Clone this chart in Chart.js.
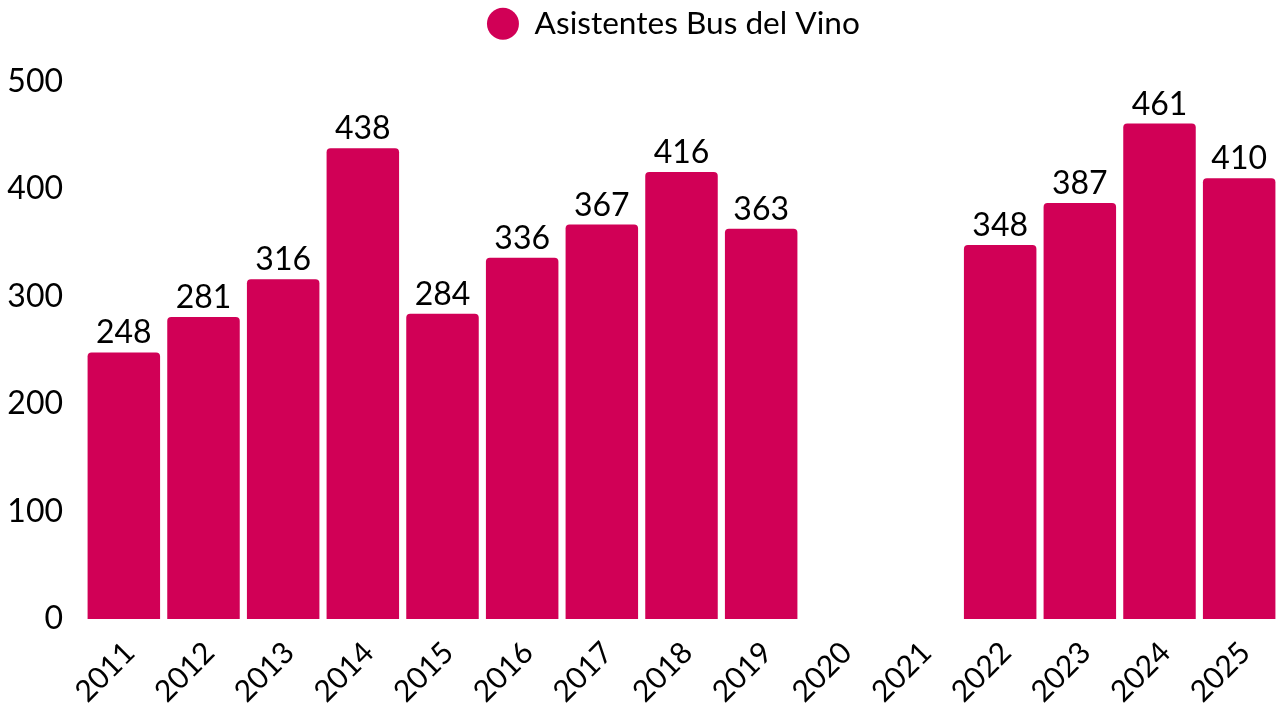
<!DOCTYPE html>
<html>
<head>
<meta charset="utf-8">
<script src="https://cdn.jsdelivr.net/npm/chart.js@4"></script>
<style>
  html, body { margin: 0; padding: 0; background: #fff; }
  #wrap { width: 1279px; height: 711px; }
</style>
</head>
<body>
<div id="wrap"><canvas id="chart"></canvas></div>
<script>
// Years and attendance per year (no bus in 2020 and 2021)
const years = ['2011', '2012', '2013', '2014', '2015', '2016', '2017', '2018', '2019', '2020', '2021', '2022', '2023', '2024', '2025'];
const asistentes = [248, 281, 316, 438, 284, 336, 367, 416, 363, null, null, 348, 387, 461, 410];
const barColor = '#d10056';

// Draw the value above each bar
const valueLabels = {
  id: 'valueLabels',
  afterDatasetsDraw(chart) {
    const ctx = chart.ctx;
    const meta = chart.getDatasetMeta(0);
    ctx.save();
    ctx.font = '32px Lato';
    ctx.fillStyle = '#000';
    ctx.textAlign = 'center';
    ctx.textBaseline = 'alphabetic';
    meta.data.forEach((bar, i) => {
      const v = asistentes[i];
      if (v == null) return;
      ctx.fillText(String(v), bar.x, bar.y - 9);
    });
    ctx.restore();
  }
};

// Extra room under the legend, and nudge it a bit to the left
const legendTweak = {
  id: 'legendTweak',
  beforeInit(chart) {
    const legend = chart.legend;
    const fit = legend.fit;
    legend.fit = function () {
      fit.call(this);
      this.height += 32;
    };
    const draw = legend._draw;
    legend._draw = function () {
      this.ctx.save();
      this.ctx.translate(-8, 0);
      draw.call(this);
      this.ctx.restore();
    };
  }
};

Chart.defaults.font.family = 'Lato';
Chart.defaults.color = '#000';

new Chart(document.getElementById('chart'), {
  type: 'bar',
  data: {
    labels: years,
    datasets: [{
      label: 'Asistentes Bus del Vino',
      data: asistentes,
      backgroundColor: barColor,
      borderRadius: { topLeft: 4, topRight: 4 },
      borderSkipped: 'bottom',
      categoryPercentage: 0.91,
      barPercentage: 1
    }]
  },
  options: {
    responsive: true,
    maintainAspectRatio: false,
    animation: false,
    layout: { padding: 0 },
    plugins: {
      legend: {
        fullSize: false,
        labels: {
          usePointStyle: true,
          pointStyle: 'circle',
          boxWidth: 32,
          boxHeight: 22.6,
          font: { size: 31.6 },
          padding: 8
        }
      },
      tooltip: { enabled: false }
    },
    scales: {
      x: {
        grid: { display: false },
        border: { display: false },
        ticks: { font: { size: 30 }, maxRotation: 45, minRotation: 45, padding: 8, labelOffset: 6 },
        afterFit(scale) { scale.height = 92; }
      },
      y: {
        min: 0,
        max: 500,
        grid: { display: false },
        border: { display: false },
        ticks: { stepSize: 100, font: { size: 32 }, padding: 13 },
        afterFit(scale) { scale.width = 84; }
      }
    }
  },
  plugins: [legendTweak, valueLabels]
});
</script>
</body>
</html>
